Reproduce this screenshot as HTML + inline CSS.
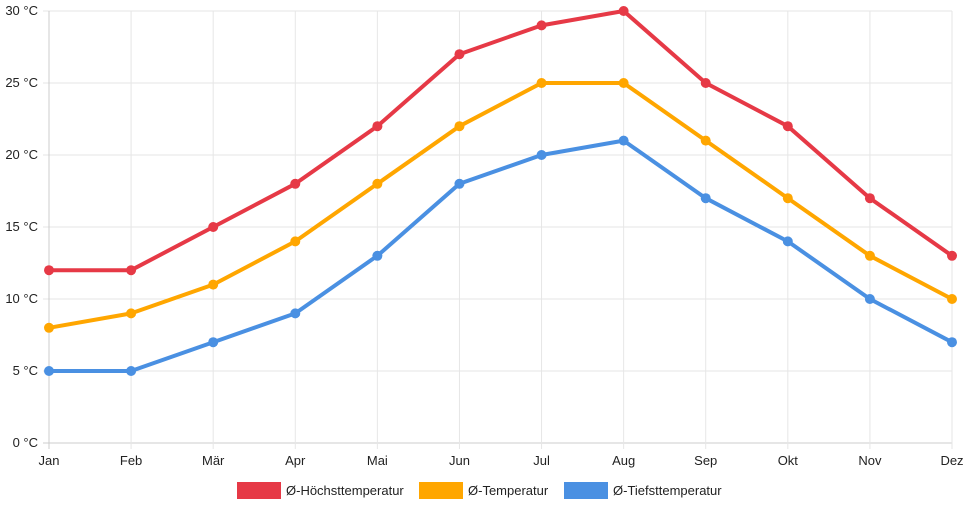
<!DOCTYPE html>
<html><head><meta charset="utf-8">
<style>
body{margin:0;background:#fff;font-family:"Liberation Sans",sans-serif;}
svg text{font-family:"Liberation Sans",sans-serif;font-size:13px;fill:#222;}
</style></head>
<body>
<svg id="chart" width="968" height="508" viewBox="0 0 968 508">
<g id="grid"></g>
<g id="series"></g>
<g id="legend"></g>
</svg>
<script>
const months=["Jan","Feb","Mär","Apr","Mai","Jun","Jul","Aug","Sep","Okt","Nov","Dez"];
const highTemps=[12,12,15,18,22,27,29,30,25,22,17,13];
const meanTemps=[8,9,11,14,18,22,25,25,21,17,13,10];
const lowTemps=[5,5,7,9,13,18,20,21,17,14,10,7];
const yTicks=[0,5,10,15,20,25,30];
const seriesNames=["Ø-Höchsttemperatur","Ø-Temperatur","Ø-Tiefsttemperatur"];

const NS="http://www.w3.org/2000/svg";
const x0=49,x1=952,yTop=11,yBot=443,yMax=30;
const xs=i=>x0+i*(x1-x0)/(months.length-1);
const ys=v=>yBot-v*(yBot-yTop)/yMax;
function mk(tag,attrs,parent){const e=document.createElementNS(NS,tag);for(const k in attrs)e.setAttribute(k,attrs[k]);parent.appendChild(e);return e;}
const grid=document.getElementById('grid');
yTicks.forEach(t=>{
  const l=mk('line',{x1:x0-6,x2:x1,y1:ys(t),y2:ys(t),stroke:t===0?'#cccccc':'#e6e6e6','stroke-width':1},grid);
  
  
  const tx=mk('text',{x:38,y:ys(t)+4,'text-anchor':'end'},grid);
  tx.textContent=t+' °C';
  
  
});
months.forEach((m,i)=>{
  const l=mk('line',{x1:xs(i),x2:xs(i),y1:yTop,y2:yBot+6,stroke:i===0?'#cccccc':'#e6e6e6','stroke-width':1},grid);
  
  
  const tx=mk('text',{x:xs(i),y:465,'text-anchor':'middle'},grid);
  tx.textContent=m;
  
  
});
const ser=document.getElementById('series');
const colors=["#e63946","#ffa600","#4a90e2"];
[highTemps,meanTemps,lowTemps].forEach((d,s)=>{
  const g=mk('g',{},ser);
  
  
  const p=mk('polyline',{points:d.map((v,i)=>xs(i)+','+ys(v)).join(' '),fill:'none',stroke:colors[s],'stroke-width':4,'stroke-linejoin':'round'},g);
  
  
  d.forEach((v,i)=>{
    const c=mk('circle',{cx:xs(i),cy:ys(v),r:5,fill:colors[s]},g);
    
    
  });
});
const leg=document.getElementById('legend');
const legX=[237,419,564];
seriesNames.forEach((n,s)=>{
  const g=mk('g',{},leg);
  
  
  mk('rect',{x:legX[s],y:482,width:44,height:17,fill:colors[s]},g);
  const t=mk('text',{x:legX[s]+49,y:495},g);
  t.textContent=n;
});
</script>
</body></html>
